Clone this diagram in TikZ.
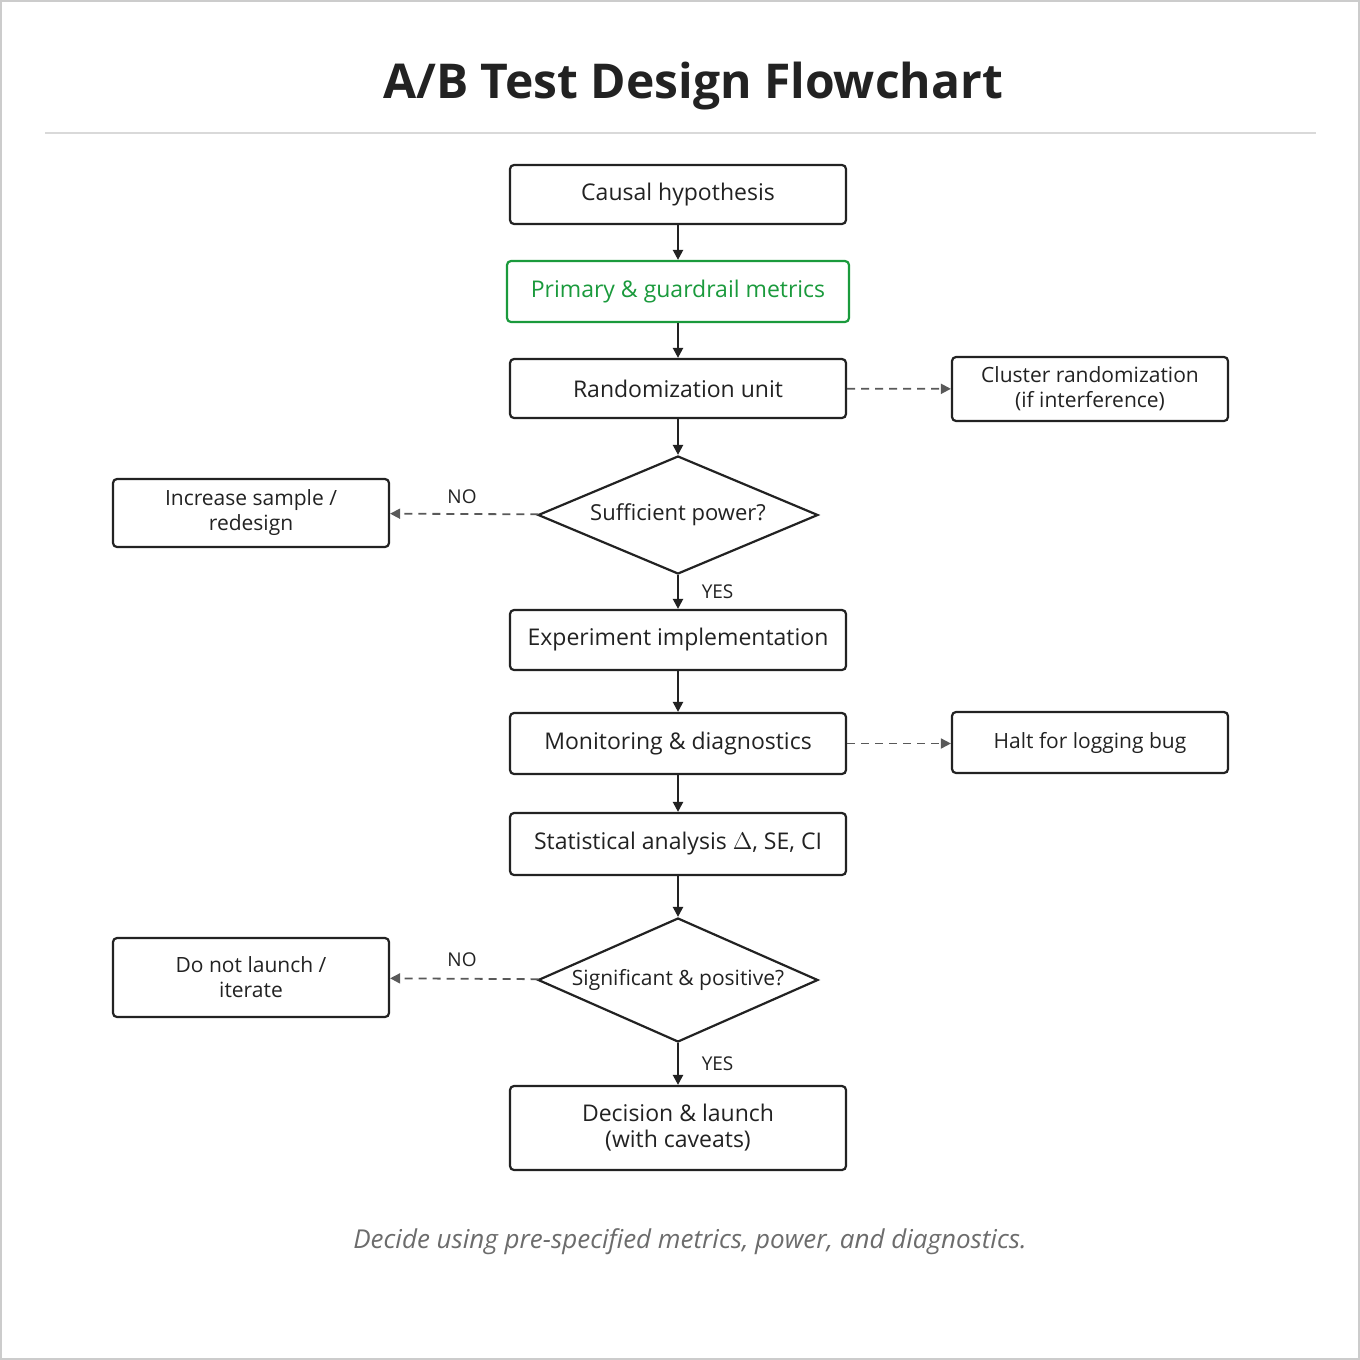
\documentclass[tikz,border=0pt]{standalone}
\usepackage{fontspec}
\setmainfont{Open Sans}
\usetikzlibrary{shapes.geometric,arrows.meta}
\definecolor{ink}{HTML}{222222}
\definecolor{grn}{HTML}{1A9A3C}
\begin{document}
\begin{tikzpicture}[x=0.5pt,y=-0.5pt,
 box/.style={draw=ink,line width=1.1pt,rounded corners=2pt,minimum width=168pt,align=center,font=\fontsize{11.5}{13}\selectfont,text=ink},
 side/.style={draw=ink,line width=1.1pt,rounded corners=2pt,minimum width=138pt,align=center,font=\fontsize{10.5}{12.5}\selectfont,text=ink},
 dia/.style={draw=ink,line width=1.1pt,diamond,minimum width=140pt,minimum height=59pt,inner sep=0pt,aspect=2.37,font=\fontsize{11}{13}\selectfont,text=ink},
 arr/.style={-{Triangle[length=5pt,width=5pt]},line width=1.1pt,draw=ink},
 darr/.style={-{Triangle[length=5pt,width=5pt]},line width=0.9pt,draw=ink!75,dash pattern=on 4pt off 3pt},
 lab/.style={font=\fontsize{9.5}{11}\selectfont,text=ink}]
\fill[white] (0,0) rectangle (1360,1360);
\draw[gray!40,line width=0.6pt] (1,1) rectangle (1359,1359);
\node[font=\fontsize{24}{28}\selectfont\bfseries,text=ink] (title) at (693,86) {A/B Test Design Flowchart};
\draw[gray!30,line width=0.7pt] (45,133) -- (1316,133);
\node[box,minimum height=29.5pt] (a) at (678,194.5) {Causal hypothesis};
\node[box,draw=grn,text=grn,minimum width=171pt,minimum height=30.5pt] (b) at (678,291.5) {Primary \& guardrail metrics};
\node[box,minimum height=29.5pt] (c) at (678,388.5) {Randomization unit};
\node[side,minimum height=32pt] (c2) at (1090,389) {Cluster randomization\\(if interference)};
\node[dia] (d) at (678,515) {Sufficient power?};
\node[side,minimum height=34pt] (d2) at (251,513) {Increase sample /\\redesign};
\node[box,minimum height=30pt] (e) at (678,640) {Experiment implementation};
\node[box,minimum height=30.5pt] (f) at (678,743.5) {Monitoring \& diagnostics};
\node[side,minimum height=30.5pt] (f2) at (1090,742.5) {Halt for logging bug};
\node[box,minimum height=31pt] (g) at (678,844) {Statistical analysis $\Delta$, SE, CI};
\node[dia,minimum height=62pt,font=\fontsize{10.5}{12}\selectfont] (h) at (678,980) {Significant \& positive?};
\node[side,minimum height=39.5pt] (h2) at (251,977.5) {Do not launch /\\iterate};
\node[box,minimum height=42pt] (i) at (678,1128) {Decision \& launch\\(with caveats)};
\node[font=\fontsize{13}{15}\selectfont\itshape,text=gray!85!black] (cap) at (690,1242) {Decide using pre-specified metrics, power, and diagnostics.};
\draw[arr] (a) -- (b);
\draw[arr] (b) -- (c);
\draw[arr] (c) -- (d);
\draw[arr] (d) -- node[lab,right,xshift=8pt] {YES} (e);
\draw[arr] (e) -- (f);
\draw[arr] (f) -- (g);
\draw[arr] (g) -- (h);
\draw[arr] (h) -- node[lab,right,xshift=8pt] {YES} (i);
\draw[darr] (c) -- (c2);
\draw[darr] (f.east) -- (f2.west |- f.east);
\draw[darr] (d) -- (d2);
\node[lab] (n1) at (462,497) {NO};
\draw[darr] (h) -- (h2);
\node[lab] (n2) at (462,960) {NO};
\end{tikzpicture}
\end{document}
